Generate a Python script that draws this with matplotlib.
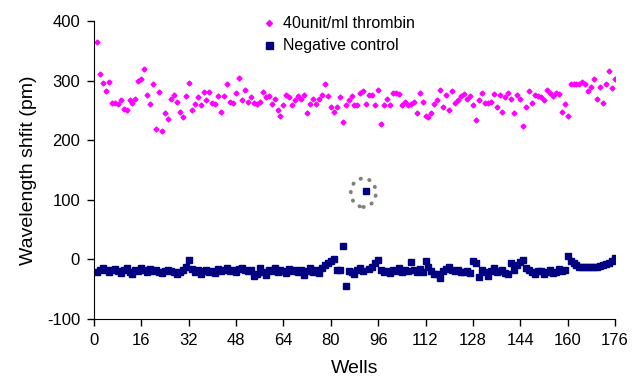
import numpy as np
import matplotlib
matplotlib.use('Agg')
import matplotlib.pyplot as plt
from matplotlib.patches import Ellipse

plt.rcParams['font.family'] = ['Liberation Sans', 'DejaVu Sans']
plt.rcParams['axes.unicode_minus'] = False

# 40unit/ml thrombin, wells 1-176
thrombin = [365, 311, 296, 282, 298, 263, 263, 261, 267, 252,
            250, 267, 263, 270, 300, 302, 320, 276, 261, 294,
            219, 281, 215, 246, 235, 270, 276, 265, 248, 239,
            274, 296, 250, 261, 272, 259, 281, 267, 281, 263,
            261, 274, 248, 274, 294, 265, 263, 279, 305, 267,
            285, 265, 272, 263, 261, 265, 281, 272, 274, 261,
            270, 250, 241, 259, 276, 272, 259, 267, 274, 270,
            276, 246, 261, 270, 261, 270, 276, 294, 274, 255,
            248, 255, 272, 230, 259, 267, 274, 259, 259, 280,
            283, 261, 276, 276, 259, 285, 228, 259, 270, 259,
            280, 280, 278, 259, 265, 259, 261, 265, 246, 280,
            265, 241, 239, 246, 261, 267, 285, 255, 276, 250,
            283, 263, 267, 274, 278, 270, 274, 259, 234, 267,
            280, 263, 263, 265, 278, 256, 276, 248, 272, 280,
            270, 246, 276, 270, 224, 255, 283, 263, 276, 274,
            272, 267, 285, 280, 274, 280, 278, 248, 261, 241,
            294, 295, 294, 295, 298, 295, 283, 289, 302, 270,
            289, 263, 295, 317, 287, 302]

# Negative control, wells 1-176
negative = [-21, -18, -15, -18, -22, -17, -16, -20, -23, -18,
            -15, -22, -24, -17, -19, -15, -18, -21, -16, -20,
            -18, -21, -23, -19, -17, -20, -22, -24, -21, -17,
            -13, -1, -16, -22, -18, -25, -20, -17, -21, -19,
            -23, -16, -20, -18, -15, -19, -17, -21, -16, -14,
            -18, -20, -17, -28, -25, -14, -22, -27, -18, -20,
            -15, -21, -17, -19, -23, -16, -20, -18, -22, -17,
            -27, -19, -15, -21, -18, -23, -14, -10, -6, -3,
            0, -18, -18, 23, -44, -20, -22, -25, -18, -14,
            -20, 115, -16, -12, -6, -1, -17, -21, -19, -23,
            -18, -20, -15, -22, -17, -20, -5, -18, -21, -16,
            -22, -2, -12, -20, -25, -24, -31, -20, -16, -12,
            -18, -19, -17, -22, -21, -20, -23, -2, -6, -29,
            -17, -22, -28, -19, -15, -21, -20, -18, -23, -24,
            -6, -17, -9, -5, -1, -14, -17, -22, -24, -20,
            -19, -25, -21, -18, -23, -22, -16, -20, -18, 6,
            -2, -6, -10, -12, -12, -12, -13, -13, -12, -12,
            -11, -10, -8, -6, -3, 2]

wells = np.arange(1, len(thrombin) + 1)
wells_neg = np.arange(1, len(negative) + 1)

fig = plt.figure(figsize=(6.33, 3.77), dpi=100)
ax = fig.add_axes([0.1485, 0.154, 0.823, 0.79])

ax.plot(wells, thrombin, linestyle='none', marker='D', ms=2.5,
        color='#FF00FF', mec='#FF00FF', label='40unit/ml thrombin')
ax.plot(wells_neg, negative, linestyle='none', marker='s', ms=4.2,
        color='#000080', mec='#000080', label='Negative control')

# dotted circle around the outlier
ax.add_patch(Ellipse((91, 112), 8.5, 48, fill=False, edgecolor='#808080',
                     linestyle=(0, (0.1, 2.2)), linewidth=2.8,
                     capstyle='round'))

ax.set_xlim(0, 176)
ax.set_ylim(-100, 400)
ax.set_xticks(np.arange(0, 177, 16))
ax.set_yticks(np.arange(-100, 401, 100))
ax.spines['top'].set_visible(False)
ax.spines['right'].set_visible(False)
ax.tick_params(direction='out', length=5, width=1, labelsize=12, colors='black', pad=5)
ax.set_xlabel('Wells', fontsize=14, labelpad=9)
ax.set_ylabel('Wavelength shfit (pm)', fontsize=14, labelpad=7)

ax.legend(loc='upper center', bbox_to_anchor=(0.47, 1.065), frameon=False,
          fontsize=11.5, handlelength=0.8, handletextpad=0.5, labelspacing=0.45,
          markerscale=1.2)

fig.savefig('out.png', dpi=100)
